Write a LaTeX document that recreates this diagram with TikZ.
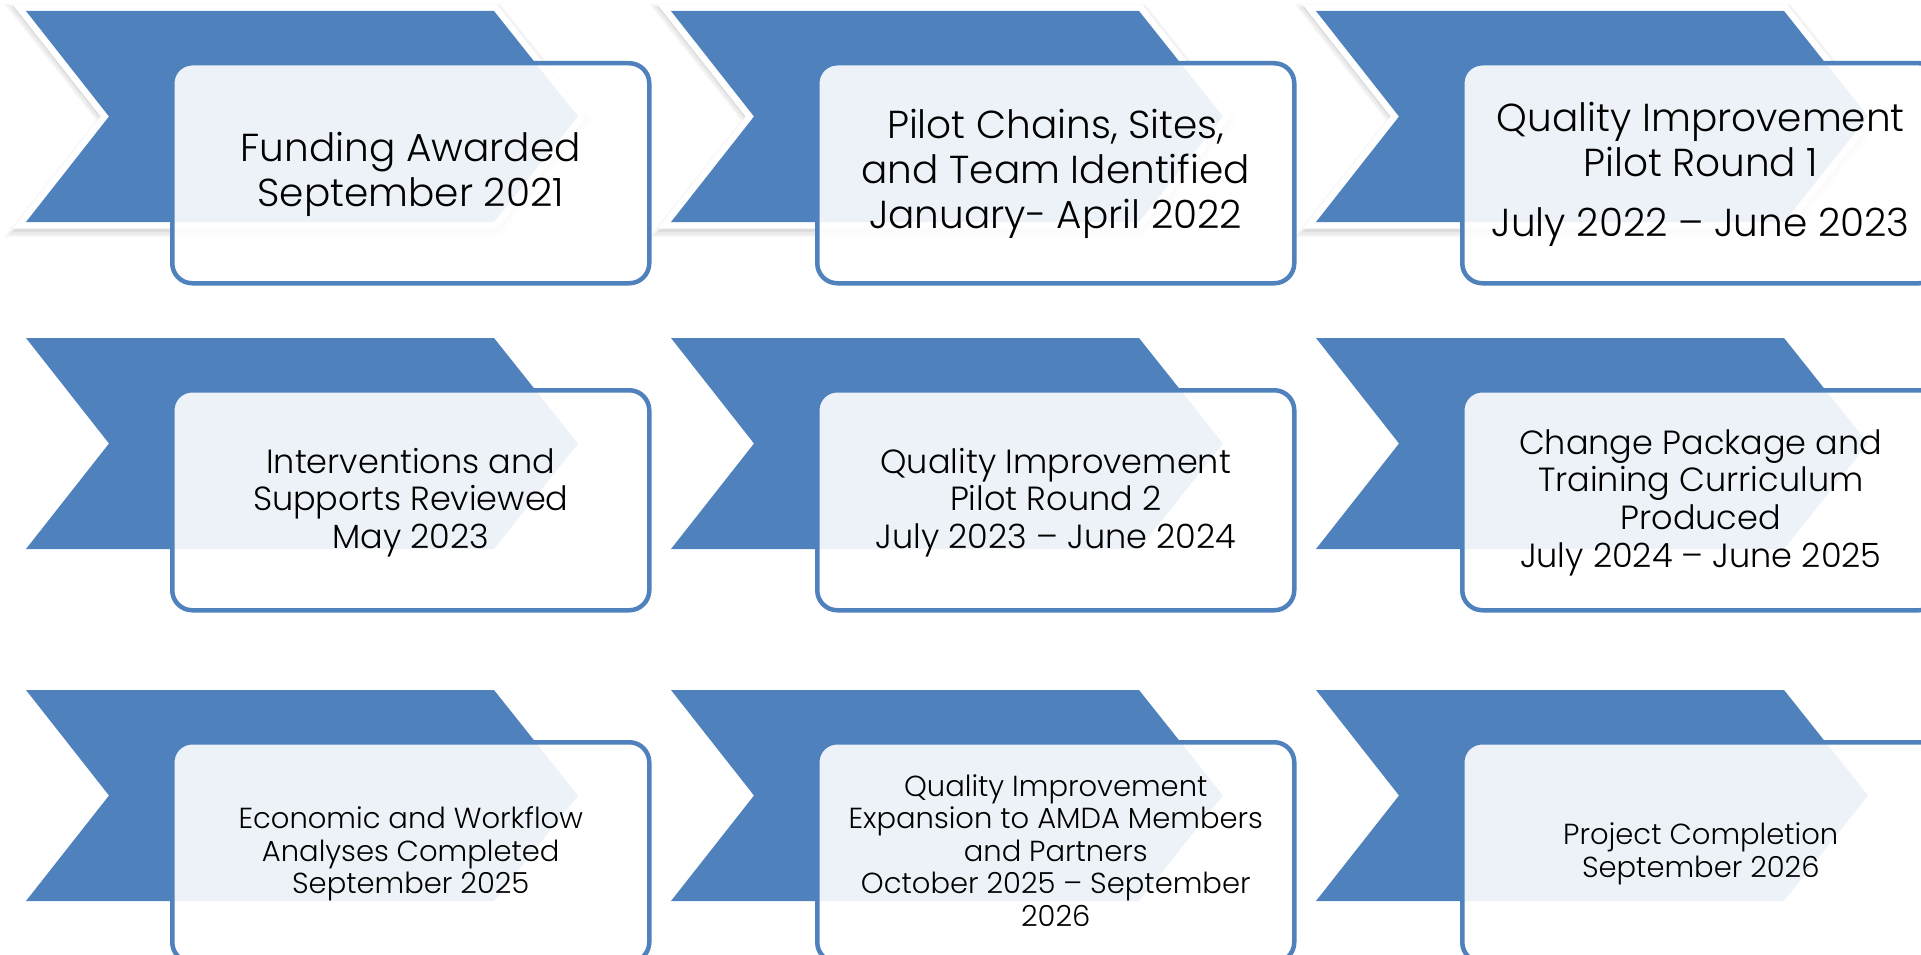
\documentclass[tikz,border=0pt]{standalone}
\usepackage{fontspec}
\setmainfont{Poppins}[UprightFont={* Light}]
\definecolor{chevblue}{HTML}{4F81BD}
\definecolor{boxline}{HTML}{4F81BD}
% one chevron: top-left corner at (#2,#3), drawn with the options #1
\newcommand\chevshape[3]{%
  \path[#1] (#2,#3) -- ++(468,0) -- ++(84,105.5) -- ++(-84,105.5)
    -- ++(-468,0) -- ++(83,-105.5) -- cycle;}
% the first row of chevrons carries a white rim and a soft shadow
\newcommand\rimchevron[2]{%
  \chevshape{draw=black, draw opacity=0.035, line width=22, line join=miter, shift={(1,4)}}{#1}{#2}
  \chevshape{draw=black, draw opacity=0.045, line width=18, line join=miter, shift={(1,4)}}{#1}{#2}
  \chevshape{draw=black, draw opacity=0.06, line width=14, line join=miter, shift={(1,3)}}{#1}{#2}
  \chevshape{draw=white, line width=13, line join=miter}{#1}{#2}
  \chevshape{fill=chevblue}{#1}{#2}}
\begin{document}
\begin{tikzpicture}[x=1pt, y=-1pt,
  stagebox/.style={draw=boxline, line width=4.5pt, fill=white, fill opacity=0.9,
    text opacity=1, rounded corners=20pt, minimum width=477pt, minimum height=220pt,
    inner sep=0pt, anchor=north west, align=center},
  bigtext/.style={font=\fontsize{39}{45}\selectfont, text depth=8pt},
  midtext/.style={font=\fontsize{33.5}{37.7}\selectfont, text depth=4pt},
  smalltext/.style={font=\fontsize{29}{32.5}\selectfont, text depth=4pt}]
\useasboundingbox (0,0) rectangle (1921,955);
\clip (0,0) rectangle (1921,955);
\fill[white] (0,0) rectangle (1921,955);

% chevrons
\rimchevron{26}{11}
\rimchevron{671}{11}
\rimchevron{1316}{11}
\chevshape{fill=chevblue}{26}{338}
\chevshape{fill=chevblue}{671}{338}
\chevshape{fill=chevblue}{1316}{338}
\chevshape{fill=chevblue}{26}{690}
\chevshape{fill=chevblue}{671}{690}
\chevshape{fill=chevblue}{1316}{690}

% stage boxes
\node[stagebox, bigtext] (b1) at (170,61)
  {Funding Awarded\\September 2021};
\node[stagebox, bigtext] (b2) at (815,61)
  {Pilot Chains, Sites,\\and Team Identified\\January- April 2022};
\node[stagebox, bigtext] (b3) at (1460,61)
  {Quality Improvement\\Pilot Round 1\\[15pt]July 2022 – June 2023};

\node[stagebox, midtext] (b4) at (170,388)
  {Interventions and\\Supports Reviewed\\May 2023};
\node[stagebox, midtext] (b5) at (815,388)
  {Quality Improvement\\Pilot Round 2\\July 2023 – June 2024};
\node[stagebox, midtext] (b6) at (1460,388)
  {Change Package and\\Training Curriculum\\Produced\\July 2024 – June 2025};

\node[stagebox, smalltext] (b7) at (170,740)
  {Economic and Workflow\\Analyses Completed\\September 2025};
\node[stagebox, smalltext] (b8) at (815,740)
  {Quality Improvement\\Expansion to AMDA Members\\and Partners\\October 2025 – September\\2026};
\node[stagebox, smalltext] (b9) at (1460,740)
  {Project Completion\\September 2026};
\end{tikzpicture}
\end{document}
